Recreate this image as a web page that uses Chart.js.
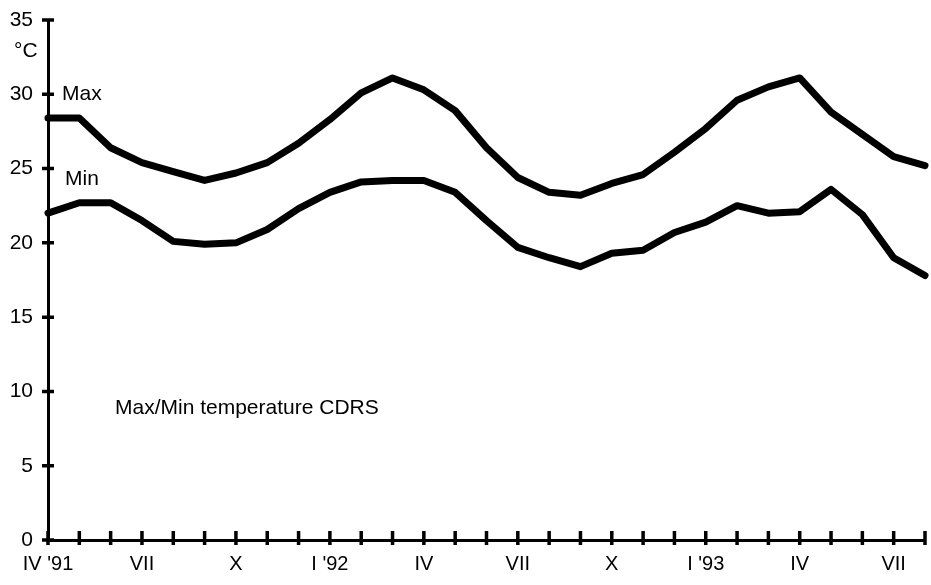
<!DOCTYPE html>
<html><head><meta charset="utf-8">
<script src="https://cdn.jsdelivr.net/npm/chart.js@4/dist/chart.umd.min.js"></script>
<style>html,body{margin:0;padding:0;background:#fff}#wrap{width:931px;height:585px}</style>
</head><body><div id="wrap"><canvas id="c" width="931" height="585"></canvas></div>
<script>
// Months April 1991 .. August 1993
const months = ["IV '91","V","VI","VII","VIII","IX","X","XI","XII",
  "I '92","II","III","IV","V","VI","VII","VIII","IX","X","XI","XII",
  "I '93","II","III","IV","V","VI","VII","VIII"];
const maxTemp = [28.4,28.4,26.4,25.4,24.8,24.2,24.7,25.4,26.7,
  28.3,30.1,31.1,30.3,28.9,26.4,24.4,23.4,23.2,24.0,24.6,26.1,
  27.7,29.6,30.5,31.1,28.8,27.3,25.8,25.2];
const minTemp = [22.0,22.7,22.7,21.5,20.1,19.9,20.0,20.9,22.3,
  23.4,24.1,24.2,24.2,23.4,21.5,19.7,19.0,18.4,19.3,19.5,20.7,
  21.4,22.5,22.0,22.1,23.6,21.9,19.0,17.8];
const yTicks = [0,5,10,15,20,25,30,35];
const FONT = "'Liberation Sans', Arial, sans-serif";

const crossTicks = {
  id: 'crossTicks',
  afterDraw(chart) {
    const ctx = chart.ctx, x = chart.scales.x, y = chart.scales.y, a = chart.chartArea;
    ctx.save();
    ctx.strokeStyle = '#000';
    ctx.lineWidth = 3.5;
    ctx.beginPath();
    for (let i = 0; i < x.ticks.length; i++) {
      const px = x.getPixelForTick(i);
      ctx.moveTo(px, a.bottom - 9); ctx.lineTo(px, a.bottom + 5);
    }
    for (let i = 0; i < y.ticks.length; i++) {
      const py = y.getPixelForTick(i);
      ctx.moveTo(a.left - 6, py); ctx.lineTo(a.left + 6, py);
    }
    ctx.stroke();
    // annotations
    ctx.fillStyle = '#000';
    ctx.font = "21px " + FONT;
    ctx.textBaseline = 'middle';
    ctx.textAlign = 'left';
    ctx.fillText('°C', 14, y.getPixelForValue(32.9));
    ctx.fillText('Max', a.left + 14, y.getPixelForValue(30));
    ctx.fillText('Min', a.left + 17, y.getPixelForValue(24.3));
    ctx.fillText('Max/Min temperature CDRS', 115, y.getPixelForValue(8.9));
    ctx.restore();
  }
};

new Chart(document.getElementById('c'), {
  type: 'line',
  data: {
    labels: months,
    datasets: [
      { label: 'Max', data: maxTemp, borderColor: '#000', borderWidth: 7, pointRadius: 0, tension: 0, clip: false, borderJoinStyle: 'round', borderCapStyle: 'round' },
      { label: 'Min', data: minTemp, borderColor: '#000', borderWidth: 7, pointRadius: 0, tension: 0, clip: false, borderJoinStyle: 'round', borderCapStyle: 'round' }
    ]
  },
  options: {
    responsive: false,
    animation: false,
    devicePixelRatio: 1,
    layout: { padding: { top: 20, right: 6, left: 0, bottom: 0 } },
    plugins: { legend: { display: false }, tooltip: { enabled: false } },
    scales: {
      x: {
        offset: false,
        grid: { display: false, drawTicks: false },
        border: { display: true, width: 3, color: '#000' },
        afterFit(s) { s.height = 45; s.paddingLeft = 0; s.paddingRight = 0; },
        ticks: {
          autoSkip: false, maxRotation: 0, padding: 12, color: '#000',
          font: { family: FONT, size: 20 },
          callback(v, i) { return i % 3 === 0 ? months[i] : ''; }
        }
      },
      y: {
        min: 0, max: 35,
        afterBuildTicks(s) { s.ticks = yTicks.map(v => ({ value: v })); },
        afterFit(s) { s.width = 48; s.paddingTop = 0; s.paddingBottom = 0; },
        grid: { display: false, drawTicks: false },
        border: { display: true, width: 3, color: '#000' },
        ticks: { padding: 15, color: '#000', font: { family: FONT, size: 21 } }
      }
    }
  },
  plugins: [crossTicks]
});
</script>
</body></html>
